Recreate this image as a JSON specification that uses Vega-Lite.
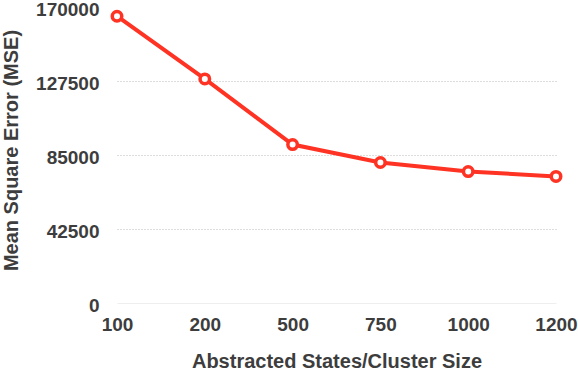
{
  "$schema": "https://vega.github.io/schema/vega-lite/v6.json",
  "width": 439,
  "height": 296,
  "autosize": {"type": "none"},
  "padding": {"left": 117, "top": 7, "right": 22, "bottom": 67},
  "background": "white",
  "config": {
    "view": {"stroke": null},
    "font": "Liberation Sans"
  },
  "data": {
    "values": [
      {"size": "100", "mse": 164700},
      {"size": "200", "mse": 128700},
      {"size": "500", "mse": 91000},
      {"size": "750", "mse": 80700},
      {"size": "1000", "mse": 75500},
      {"size": "1200", "mse": 72700}
    ]
  },
  "encoding": {
    "x": {
      "field": "size", "type": "ordinal", "sort": null,
      "scale": {"type": "point", "padding": 0},
      "axis": {
        "title": "Abstracted States/Cluster Size",
        "labelAngle": 0,
        "labelFont": "Liberation Sans", "labelFontSize": 19, "labelFontWeight": "bold", "labelColor": "#3d3d3d",
        "labelPadding": 12,
        "titleFont": "Liberation Sans", "titleFontSize": 20, "titleFontWeight": "bold", "titleColor": "#3d3d3d",
        "titlePadding": 17,
        "domain": false, "ticks": false, "grid": false
      }
    },
    "y": {
      "field": "mse", "type": "quantitative",
      "scale": {"domain": [0, 170000], "nice": false},
      "axis": {
        "title": "Mean Square Error (MSE)",
        "values": [0, 42500, 85000, 127500, 170000],
        "format": "d",
        "labelFont": "Liberation Sans", "labelFontSize": 19, "labelFontWeight": "bold", "labelColor": "#3d3d3d",
        "labelPadding": 18,
        "labelOffset": 2,
        "titleFont": "Liberation Sans", "titleFontSize": 20, "titleFontWeight": "bold", "titleColor": "#3d3d3d",
        "titlePadding": 14,
        "titleY": 143,
        "domain": false, "ticks": false,
        "grid": true,
        "gridColor": {"condition": {"test": "datum.value === 0", "value": "#eeeeee"}, "value": "#bbbbbb"},
        "gridDash": {"condition": {"test": "datum.value === 0", "value": []}, "value": [1, 2]},
        "gridOpacity": {"condition": {"test": "datum.value === 170000", "value": 0}, "value": 1}
      }
    }
  },
  "layer": [
    {"mark": {"type": "line", "color": "#fe3323", "strokeWidth": 4}},
    {"mark": {"type": "point", "shape": "circle", "filled": true, "fill": "white", "stroke": "#fe3323", "strokeWidth": 3.5, "size": 90, "opacity": 1}}
  ]
}
